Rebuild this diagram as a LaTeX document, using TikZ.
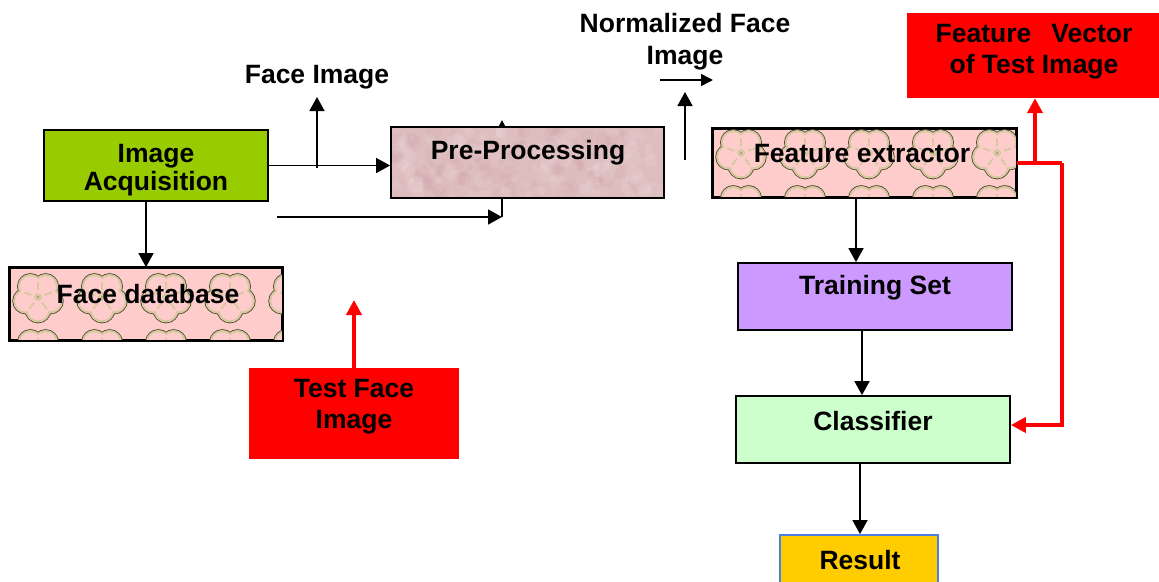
\documentclass[tikz,border=0pt]{standalone}
\usepackage{fontspec}
\setmainfont{Liberation Sans}
\usetikzlibrary{arrows.meta}

\definecolor{acqgreen}{HTML}{99CC00}
\definecolor{prepink}{HTML}{DEBDBE}
\definecolor{flowerpink}{HTML}{FFCCCC}
\definecolor{petaltan}{HTML}{D6C9A0}
\definecolor{petaledge}{HTML}{4A4232}
\definecolor{tspurple}{HTML}{CC99FF}
\definecolor{clgreen}{HTML}{CCFFCC}
\definecolor{resyellow}{HTML}{FFCC00}
\definecolor{resblue}{HTML}{4A80E8}
\definecolor{alertred}{HTML}{FF0000}

% one flower of the wallpaper fill, centred at (#1,#2)
\newcommand\drawflower[2]{%
  \begin{scope}[shift={(#1,#2)}]
    \foreach \a in {90,162,234,306,378}
      \draw[petaledge, line width=4.6pt] (\a:13) circle[radius=11];
    \foreach \a in {90,162,234,306,378}
      \draw[petaltan, line width=3pt] (\a:13) circle[radius=11];
    \foreach \a in {90,162,234,306,378}
      \fill[flowerpink] (\a:13) circle[radius=10.3];
    \foreach \a in {126,198,270,342,414}
      \draw[petaltan, line width=1.8pt] (\a:7) -- (\a:15);
    \draw[petaltan, line width=1.8pt] (0,0) circle[radius=3];
  \end{scope}}

% wallpaper of flowers inside node #1, first flower at (#2,#3)
\newcommand\flowerfill[3]{%
  \begin{scope}
    \clip (#1.north west) rectangle (#1.south east);
    \foreach \i in {0,...,5}
      \foreach \j in {0,1}
        \drawflower{#2+64*\i}{#3+56*\j};
  \end{scope}
  \draw[line width=1.8pt] (#1.north west) rectangle (#1.south east);}

\begin{document}
\begin{tikzpicture}[x=1pt,y=-1pt,
  box/.style={draw=black, line width=1.8pt, inner sep=0pt},
  lbl/.style={font=\fontsize{26.5}{30}\selectfont\bfseries, align=center,
    text=black, inner sep=0pt},
  arr/.style={line width=1.6pt, -{Triangle[length=14pt,width=15pt]}},
  redarr/.style={draw=alertred, line width=4pt,
    -{Triangle[length=15pt,width=15pt]}},
  redline/.style={draw=alertred, line width=4pt},
  mottled/.style={fill=prepink, path picture={
      \pgfmathsetseed{11}
      \foreach \k in {1,...,120}
        \fill[white, opacity=0.08] ({134*rand},{34*rand}) circle[radius={3+6*rnd}];
      \foreach \k in {1,...,90}
        \fill[purple!60!black, opacity=0.025] ({134*rand},{34*rand}) circle[radius={3+6*rnd}];
    }},
]
\useasboundingbox (0,0) rectangle (1159,581);

% boxes
\node[box, fill=acqgreen, minimum width=224pt, minimum height=71pt] (acq) at (156,165.5) {};
\node[box, mottled, minimum width=273pt, minimum height=71pt] (pre) at (527.5,162.5) {};
\node[box, fill=flowerpink, minimum width=272pt, minimum height=72pt] (db) at (146,304) {};
\node[box, fill=flowerpink, minimum width=303pt, minimum height=68pt] (fe) at (864.5,163) {};
\node[box, fill=tspurple, minimum width=274pt, minimum height=67pt] (ts) at (875,296.5) {};
\node[box, fill=clgreen, minimum width=274pt, minimum height=67pt] (cl) at (873,429.5) {};
\node[draw=resblue, line width=1.8pt, fill=resyellow, inner sep=0pt,
      minimum width=158pt, minimum height=60pt] (res) at (859,565) {};
\node[fill=alertred, inner sep=0pt, minimum width=210pt, minimum height=91pt] (test) at (354,413.5) {};
\node[fill=alertred, inner sep=0pt, minimum width=252pt, minimum height=85pt] (fv) at (1033,55.5) {};

% flower wallpaper of the two patterned boxes
\flowerfill{db}{38}{297}
\flowerfill{fe}{741}{153}

% texts
\node[lbl, font=\fontsize{26.5}{28}\selectfont\bfseries] (tacq) at (156,170) {Image\\Acquisition};
\node[lbl] (tpre) at (528,153) {Pre-Processing};
\node[lbl] (tdb) at (148,294) {Face database};
\node[lbl] (tfe) at (862,154) {Feature extractor};
\node[lbl] (tts) at (875,288) {Training Set};
\node[lbl] (tcl) at (873,421) {Classifier};
\node[lbl] (tres) at (860,560) {Result};
\node[lbl, font=\fontsize{26.5}{31}\selectfont\bfseries] (ttest) at (354,407) {Test Face\\Image};
\node[lbl, font=\fontsize{26.5}{31}\selectfont\bfseries] (tfv) at (1034,52) {Feature\hspace{20pt}Vector\\of Test Image};
\node[lbl] (tface) at (317,77) {Face Image};
\node[lbl, font=\fontsize{26.5}{32}\selectfont\bfseries] (tnorm) at (685,42) {Normalized Face\\Image};

% free ends of the loose connectors
\coordinate (faceup) at (317,168);
\coordinate (facetip) at (317,97);
\coordinate (lowstart) at (277,217);
\coordinate (lowend) at (502,217);
\coordinate (testtip) at (354,300);
\coordinate (normup) at (685,160);
\coordinate (normtip) at (685,92);
\coordinate (normh) at (660,80);
\coordinate (normhtip) at (713,80);
\coordinate (fvjoin) at (1035,163);
\coordinate (loopA) at (1062,163);
\coordinate (loopB) at (1062,425);

% black connectors
\draw[arr] (acq.east) -- (acq.east -| pre.west);
\draw[arr] (faceup) -- (facetip);
\draw[arr] (lowstart) -- (lowend);
\draw[line width=1.6pt] (lowend) -- (pre.south -| lowend);
\draw[line width=1pt, -{Triangle[length=6pt,width=6pt]}] (pre.north -| lowend) -- ++(0,-6);
\draw[arr] (acq.south -| 146,0) -- (db.north);
\draw[arr] (normup) -- (normtip);
\draw[arr, -{Triangle[length=12pt,width=12pt]}] (normh) -- (normhtip);
\draw[arr] (fe.south -| 856,0) -- (ts.north -| 856,0);
\draw[arr] (ts.south -| 862,0) -- (cl.north -| 862,0);
\draw[arr] (cl.south -| 860,0) -- (res.north -| 860,0);

% red connectors
\draw[redarr] (test.north) -- (testtip);
\draw[redline] (fe.east |- fvjoin) -- (loopA);
\draw[redarr] (fvjoin) -- (fv.south -| fvjoin);
\draw[redarr] (loopA) -- (loopB) -- (cl.east |- loopB);
\end{tikzpicture}
\end{document}
